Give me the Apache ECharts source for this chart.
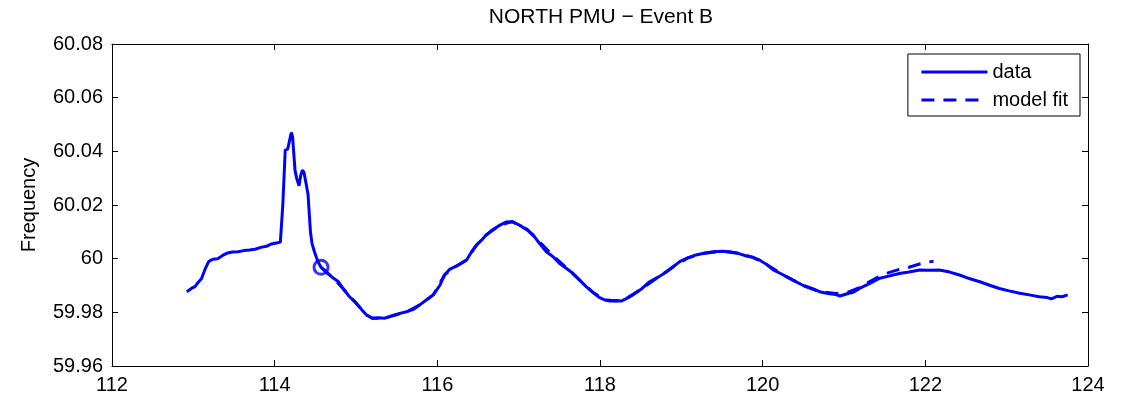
<!DOCTYPE html>
<html><head><meta charset="utf-8">
<script src="https://cdn.jsdelivr.net/npm/echarts@6/dist/echarts.min.js"></script>
<style>html,body{margin:0;padding:0;background:#fff}#c{width:1132px;height:397px}</style>
</head><body><div id="c"></div>
<script>
const TITLE = 'NORTH PMU \u2212 Event B';
const Y_NAME = 'Frequency';
const SERIES_NAMES = ['data', 'model fit'];
const xTicks = [112, 114, 116, 118, 120, 122, 124];
const yTicks = [59.96, 59.98, 60, 60.02, 60.04, 60.06, 60.08];

const dataX = [112.92,112.98,113.02,113.05,113.10,113.15,113.19,113.24,113.30,113.36,113.41,113.48,113.55,113.62,113.69,113.76,113.83,113.90,113.96,114.02,114.07,114.10,114.13,114.16,114.18,114.205,114.22,114.25,114.27,114.30,114.32,114.34,114.36,114.38,114.41,114.44,114.46,114.49,114.53,114.57,114.65,114.72,114.78,114.85,114.92,115.00,115.07,115.13,115.20,115.28,115.35,115.41,115.48,115.54,115.62,115.70,115.78,115.86,115.95,116.03,116.09,116.15,116.22,116.29,116.36,116.42,116.48,116.54,116.60,116.68,116.77,116.85,116.92,117.01,117.10,117.18,117.26,117.34,117.42,117.50,117.58,117.67,117.75,117.83,117.91,117.99,118.06,118.12,118.20,118.26,118.33,118.40,118.50,118.61,118.72,118.82,118.90,118.98,119.08,119.18,119.28,119.39,119.50,119.59,119.70,119.80,119.88,119.96,120.05,120.13,120.25,120.37,120.50,120.62,120.70,120.80,120.90,120.95,121.05,121.12,121.19,121.30,121.44,121.55,121.68,121.80,121.93,122.05,122.17,122.30,122.42,122.55,122.67,122.80,122.91,123.03,123.16,123.28,123.40,123.50,123.55,123.62,123.68,123.75];
const dataY = [59.9877,59.9890,59.9896,59.9908,59.9925,59.9965,59.9990,59.9998,60.0000,60.0012,60.0020,60.0025,60.0026,60.0030,60.0032,60.0035,60.0042,60.0046,60.0055,60.0058,60.0062,60.0200,60.0405,60.0408,60.0405,60.0470,60.0455,60.0330,60.0300,60.0272,60.0310,60.0330,60.0322,60.0290,60.0240,60.0100,60.0055,60.0025,59.9990,59.9968,59.9945,59.9928,59.9915,59.9885,59.9858,59.9835,59.9810,59.9790,59.9778,59.9780,59.9778,59.9784,59.9790,59.9796,59.9802,59.9810,59.9827,59.9845,59.9865,59.9900,59.9940,59.9960,59.9970,59.9982,59.9995,60.0025,60.0050,60.0068,60.0088,60.0108,60.0125,60.0137,60.0138,60.0125,60.0108,60.0088,60.0055,60.0026,60.0008,59.9983,59.9965,59.9945,59.9920,59.9896,59.9875,59.9856,59.9846,59.9842,59.9843,59.9842,59.9852,59.9865,59.9885,59.9914,59.9932,59.9951,59.9970,59.9989,60.0003,60.0014,60.0020,60.0026,60.0028,60.0026,60.0020,60.0010,60.0005,59.9995,59.9978,59.9958,59.9940,59.9920,59.9900,59.9887,59.9877,59.9870,59.9866,59.9861,59.9870,59.9876,59.9889,59.9905,59.9927,59.9935,59.9945,59.9950,59.9958,59.9957,59.9958,59.9950,59.9939,59.9925,59.9914,59.9900,59.9889,59.9880,59.9871,59.9865,59.9858,59.9855,59.9850,59.9860,59.9858,59.9865];

const fitX = [114.57,114.72,114.85,115.00,115.13,115.20,115.35,115.48,115.62,115.78,115.95,116.09,116.22,116.36,116.48,116.60,116.77,116.92,117.10,117.26,117.42,117.58,117.75,117.91,118.06,118.20,118.33,118.50,118.72,118.90,119.08,119.28,119.50,119.70,119.88,120.05,120.25,120.50,120.70,120.90,121.05,121.19,121.30,121.44,121.55,121.68,121.80,121.93,122.05,122.10];
const fitY = [59.9968,59.9928,59.9885,59.9835,59.9790,59.9778,59.9778,59.9790,59.9802,59.9827,59.9865,59.9940,59.9970,59.9995,60.0050,60.0088,60.0125,60.0138,60.0110,60.0062,60.0012,59.9968,59.9920,59.9875,59.9846,59.9843,59.9852,59.9885,59.9932,59.9970,60.0003,60.0020,60.0028,60.0020,60.0005,59.9978,59.9940,59.9900,59.9877,59.9870,59.9875,59.9892,59.9912,59.9935,59.9948,59.9960,59.9968,59.9980,59.9988,59.9990];

const eventX = [114.57];
const eventY = [59.9968];

const zip = (a, b) => a.map((v, i) => [v, b[i]]);
const fmt = v => String(+(+v).toFixed(2));
const FONT = 'Liberation Sans';
const BLUE = '#0000ff';

const chart = echarts.init(document.getElementById('c'), null, {renderer: 'canvas'});
const axisCommon = {
  type: 'value', min: 112, max: 124, interval: 2,
  axisLine: {show: true, onZero: false, lineStyle: {color: '#000', width: 1}},
  axisTick: {show: true, inside: true, length: 6, lineStyle: {color: '#000'}},
  splitLine: {show: false}
};
const yCommon = {
  type: 'value', min: 59.96, max: 60.08, interval: 0.02,
  axisLine: {show: true, onZero: false, lineStyle: {color: '#000', width: 1}},
  axisTick: {show: true, inside: true, length: 6, lineStyle: {color: '#000'}},
  splitLine: {show: false}
};
chart.setOption({
  animation: false,
  backgroundColor: '#fff',
  textStyle: {fontFamily: FONT},
  graphic: [{type: 'text', x: 601, y: 7, style: {text: TITLE, font: '21px "Liberation Sans"', fill: '#000', textAlign: 'center', textVerticalAlign: 'top'}}],
  grid: {left: 112, right: 44, top: 44, bottom: 31, containLabel: false},
  xAxis: [
    Object.assign({}, axisCommon, {position: 'bottom', axisLabel: {show: true, color: '#000', fontSize: 20, fontFamily: FONT, margin: 9, formatter: fmt}}),
    Object.assign({}, axisCommon, {position: 'top', axisLabel: {show: false}})
  ],
  yAxis: [
    Object.assign({}, yCommon, {position: 'left', name: Y_NAME, nameLocation: 'middle', nameGap: 73, nameRotate: 90,
      nameTextStyle: {fontFamily: FONT, fontSize: 20, color: '#000'},
      axisLabel: {show: true, color: '#000', fontSize: 20, fontFamily: FONT, margin: 9, formatter: fmt}}),
    Object.assign({}, yCommon, {position: 'right', axisLabel: {show: false}})
  ],
  legend: {
    data: SERIES_NAMES,
    orient: 'vertical', right: 52, top: 54,
    backgroundColor: '#fff', borderColor: '#000', borderWidth: 1, borderRadius: 0,
    padding: [8, 12, 6, 12], itemGap: 8, itemWidth: 66, itemHeight: 20,
    itemStyle: {opacity: 0},
    lineStyle: {width: 3},
    textStyle: {fontFamily: FONT, fontSize: 20, color: '#000', padding: [0, 0, 0, 0]}
  },
  series: [
    {name: SERIES_NAMES[0], type: 'line', data: zip(dataX, dataY), symbol: 'none', smooth: false,
      lineStyle: {color: BLUE, width: 3}, itemStyle: {color: BLUE}, z: 3},
    {name: SERIES_NAMES[1], type: 'line', data: zip(fitX, fitY), symbol: 'none', smooth: false,
      lineStyle: {color: BLUE, width: 3, type: [13, 9]}, itemStyle: {color: BLUE}, z: 4},
    {name: 'event', type: 'scatter', data: zip(eventX, eventY), symbol: 'circle', symbolSize: 14,
      itemStyle: {color: 'rgba(0,0,0,0)', borderColor: BLUE, borderWidth: 3}, z: 5}
  ]
});
</script></body></html>
